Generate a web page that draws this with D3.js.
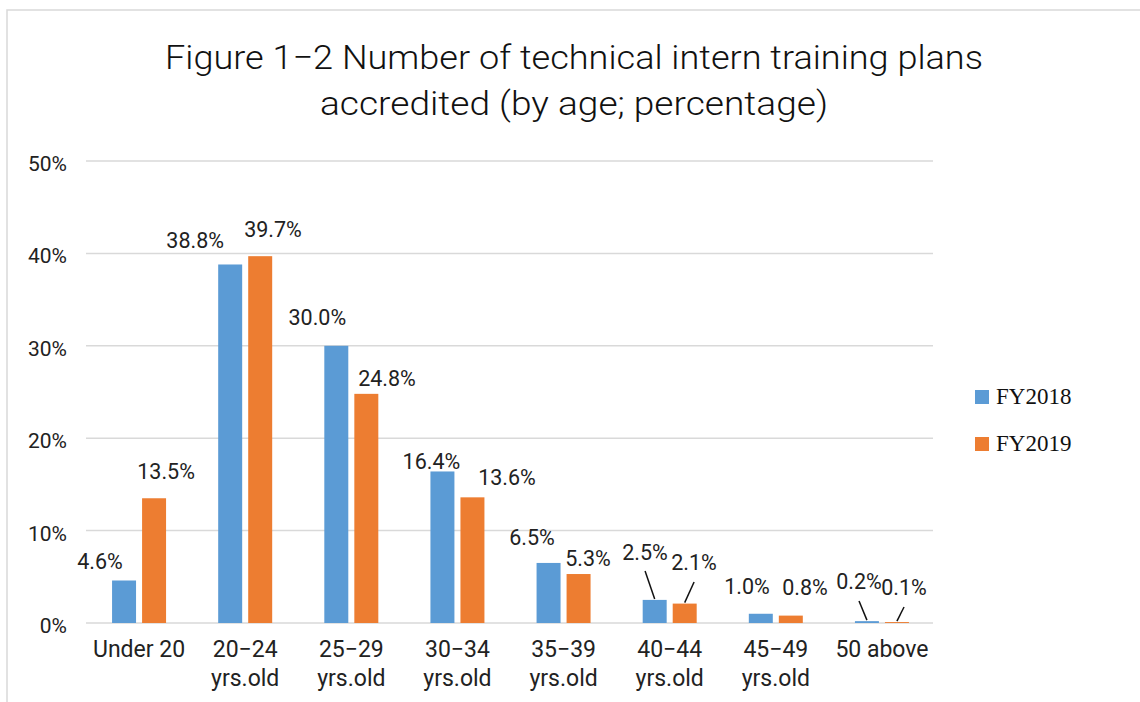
<!DOCTYPE html>
<html><head><meta charset="utf-8">
<script src="https://cdn.jsdelivr.net/npm/d3@7"></script>
<style>body{margin:0;background:#fff}svg{display:block}</style>
</head><body>
<script>
const categories = [["Under 20"],["20\u221224","yrs.old"],["25\u221229","yrs.old"],["30\u221234","yrs.old"],["35\u221239","yrs.old"],["40\u221244","yrs.old"],["45\u221249","yrs.old"],["50 above"]];
const seriesNames = ["FY2018","FY2019"];
const fy2018 = [4.6,38.8,30.0,16.4,6.5,2.5,1.0,0.2];
const fy2019 = [13.5,39.7,24.8,13.6,5.3,2.1,0.8,0.1];
const yTicks = [0,10,20,30,40,50];
const colors = ["#5B9BD5","#ED7D31"];
// label nudges (layout): [dx, dy, leader] relative to bar center/top
const nudge = [
  [[-24,-18.5,0],[-35,-23.5,0],[-19,-28.8,0],[-11,-9.5,0],[-16.5,-25.9,0],[-9.6,-47.9,1],[-13.8,-26.8,0],[-7.9,-39.2,1]],
  [[12,-26.3,0],[12.8,-26.2,0],[20.7,-15.8,0],[34.6,-20.3,0],[9.5,-16,0],[9.4,-40.6,1],[14.2,-28.6,0],[7.1,-34.1,1]]
];
const W=1140,H=702;
const svg=d3.select("body").append("svg").attr("width",W).attr("height",H);
const font="Roboto,'Noto Sans',sans-serif";
// frame
svg.append("path").attr("d",`M7,${H} V10 H${W}`).attr("fill","none").attr("stroke","#d9d9d9").attr("stroke-width",1.5);
// title
const t=svg.append("g").attr("font-family",font).attr("font-weight",300).attr("font-size",34).attr("fill","#111").attr("text-anchor","middle");
t.append("text").attr("x",574).attr("y",69).attr("textLength",818).attr("lengthAdjust","spacingAndGlyphs").text("Figure 1\u22122 Number of technical intern training plans");
t.append("text").attr("x",574).attr("y",115).attr("textLength",508).attr("lengthAdjust","spacingAndGlyphs").text("accredited (by age; percentage)");

const x=d3.scaleBand().domain(d3.range(categories.length)).range([86,935]).paddingInner(0).paddingOuter(0);
const y=d3.scaleLinear().domain([0,50]).range([623,161]);
// grid
svg.append("g").selectAll("line").data(yTicks).join("line")
  .attr("x1",86).attr("x2",933).attr("y1",d=>y(d)).attr("y2",d=>y(d))
  .attr("stroke","#d9d9d9").attr("stroke-width",1.5);
// y tick labels
svg.append("g").selectAll("text").data(yTicks).join("text")
  .attr("x",67).attr("y",d=>y(d)+3).attr("text-anchor","end").attr("dominant-baseline","central")
  .attr("font-family",font).attr("font-size",21).attr("fill","#222").text(d=>d+"%");
// bars
const bw=x.bandwidth()*0.226, off=x.bandwidth()*0.1414;
const series=[fy2018,fy2019];
series.forEach((vals,s)=>{
  const cx=i=>x(i)+x.bandwidth()/2+(s===0?-off:off);
  svg.append("g").selectAll("rect").data(vals).join("rect")
    .attr("x",(d,i)=>cx(i)-bw/2).attr("width",bw)
    .attr("y",d=>y(d)).attr("height",d=>y(0)-y(d)).attr("fill",colors[s]);
  const g=svg.append("g");
  vals.forEach((v,i)=>{
    const [dx,dy,lead]=nudge[s][i];
    const lx=cx(i)+dx, ly=y(v)+dy;
    g.append("text").attr("x",lx).attr("y",ly).attr("text-anchor","middle").attr("dominant-baseline","central")
      .attr("font-family",font).attr("font-size",21.5).attr("fill","#222").text(v.toFixed(1)+"%");
    if(lead){
      g.append("line").attr("x1",lx).attr("y1",ly+19).attr("x2",cx(i)).attr("y2",y(v)-1)
        .attr("stroke","#111").attr("stroke-width",1.5);
    }
  });
});
// category labels
const cg=svg.append("g").attr("font-family",font).attr("font-size",23).attr("fill","#222").attr("text-anchor","middle");
categories.forEach((lines,i)=>{
  lines.forEach((l,j)=>{
    cg.append("text").attr("x",x(i)+x.bandwidth()/2).attr("y",657+j*28.5).text(l);
  });
});
// legend
const lg=svg.append("g");
seriesNames.forEach((n,s)=>{
  lg.append("rect").attr("x",975).attr("y",390+s*47).attr("width",14).attr("height",14).attr("fill",colors[s]);
  lg.append("text").attr("x",996).attr("y",404+s*47).attr("font-family","'Liberation Serif','Times New Roman',serif")
    .attr("font-size",23).attr("fill","#111").text(n);
});
</script>
</body></html>
